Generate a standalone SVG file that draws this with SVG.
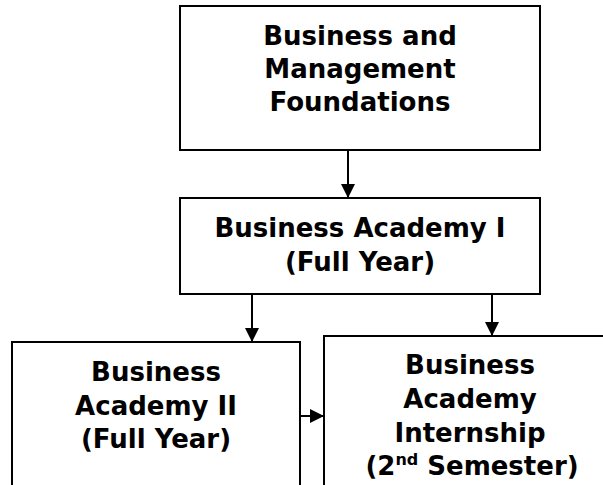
<svg xmlns="http://www.w3.org/2000/svg" width="603" height="485" viewBox="0 0 603 485">
<defs>
<style>
.box{fill:#fff;stroke:#000;stroke-width:2}
.t{font-family:"DejaVu Sans","Liberation Sans",sans-serif;font-weight:bold;font-size:26px;fill:#000;text-anchor:middle}
.c{stroke:#000;stroke-width:2;fill:none}
</style>
<marker id="ah" markerWidth="14" markerHeight="14" viewBox="0 0 14 14" refX="14" refY="7" orient="auto" markerUnits="userSpaceOnUse">
<path d="M0,0 L14,7 L0,14 Z" fill="#000"/>
</marker>
</defs>
<rect width="603" height="485" fill="#fff"/>
<g id="connectors">
<line class="c" x1="348" y1="150" x2="348" y2="198" marker-end="url(#ah)"/>
<line class="c" x1="252" y1="294" x2="252" y2="342" marker-end="url(#ah)"/>
<line class="c" x1="492" y1="294" x2="492" y2="336" marker-end="url(#ah)"/>
<line class="c" x1="300" y1="416" x2="324" y2="416" marker-end="url(#ah)"/>
</g>
<g id="foundations">
<rect class="box" x="180" y="6" width="360" height="144"/>
<text class="t" x="360" y="45">Business and</text>
<text class="t" x="360" y="78">Management</text>
<text class="t" x="360" y="111">Foundations</text>
</g>
<g id="academy1">
<rect class="box" x="180" y="198" width="360" height="96"/>
<text class="t" x="360" y="237">Business Academy I</text>
<text class="t" x="360" y="271">(Full Year)</text>
</g>
<g id="academy2">
<rect class="box" x="12" y="342" width="288" height="160"/>
<text class="t" x="156" y="381">Business</text>
<text class="t" x="156" y="415">Academy II</text>
<text class="t" x="156" y="448">(Full Year)</text>
</g>
<g id="internship">
<rect class="box" x="324" y="336" width="300" height="170"/>
<text class="t" x="470" y="374">Business</text>
<text class="t" x="470" y="408">Academy</text>
<text class="t" x="470" y="442">Internship</text>
<text class="t" x="472" y="475">(2<tspan font-size="16" dy="-10">nd</tspan><tspan dy="10"> Semester)</tspan></text>
</g>
</svg>
